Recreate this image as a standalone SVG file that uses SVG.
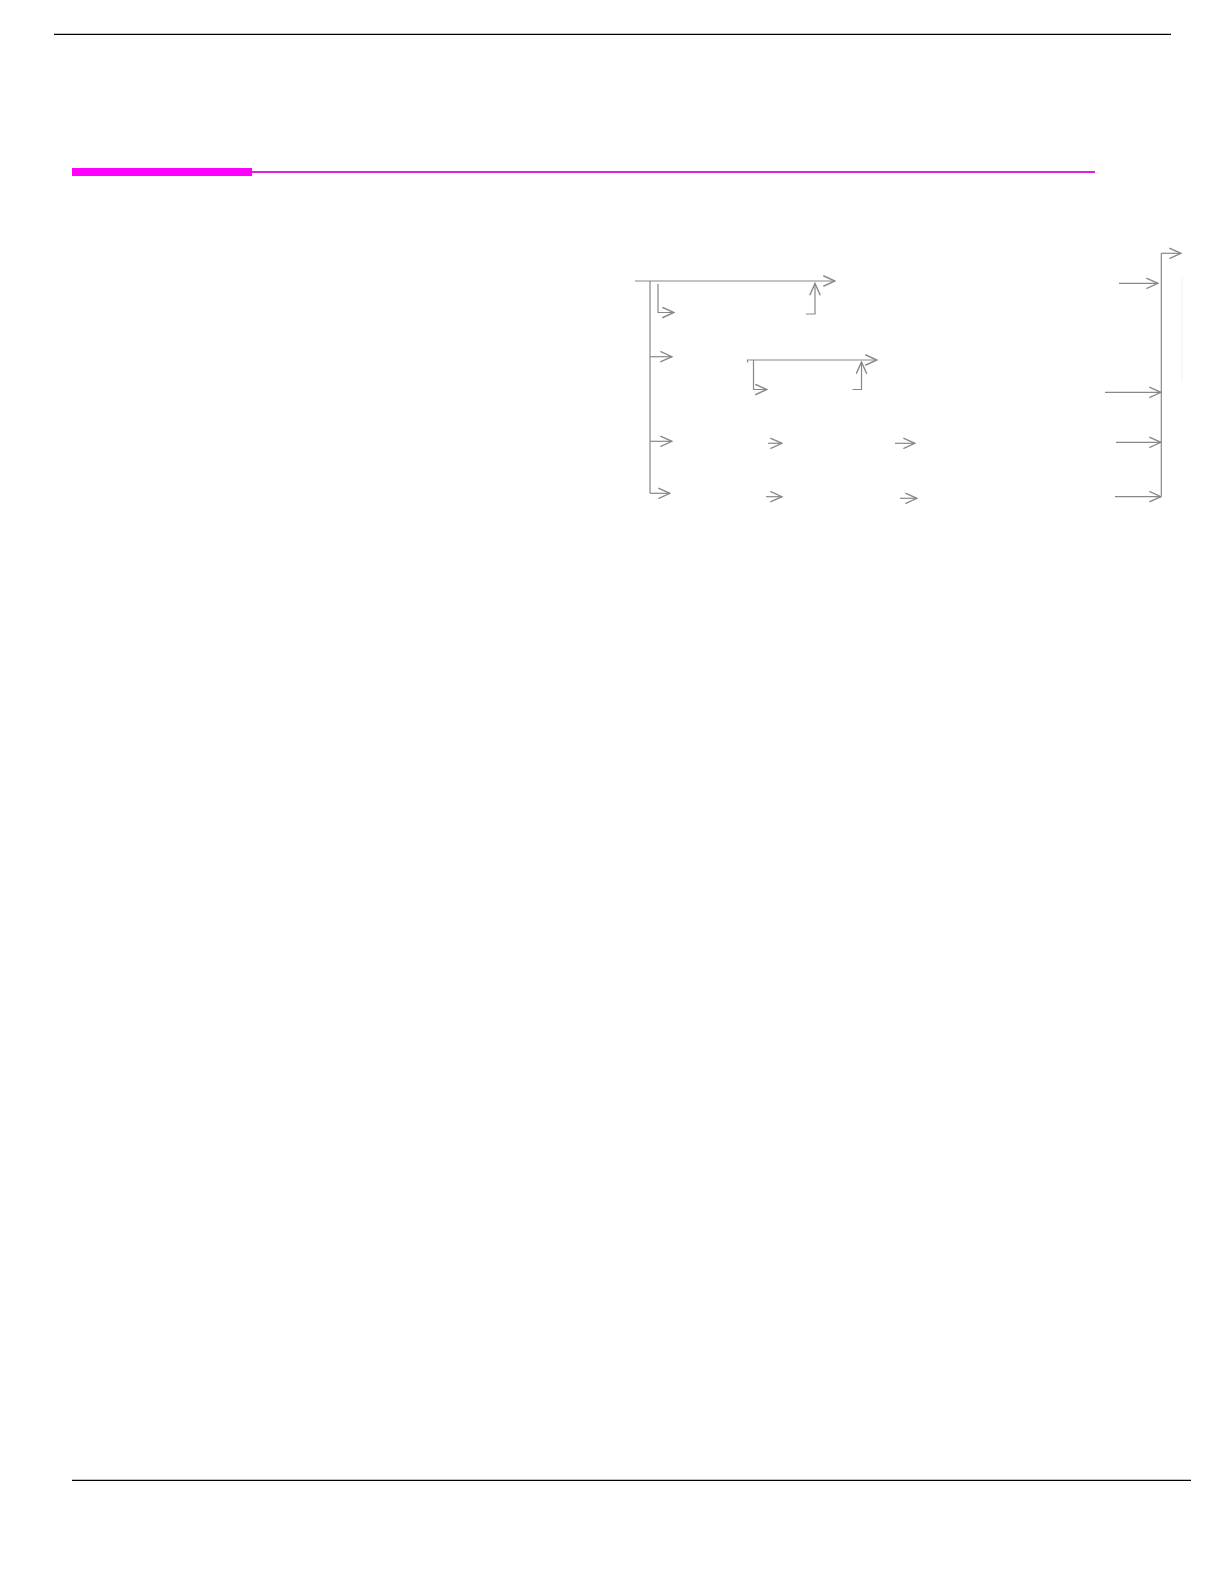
<svg xmlns="http://www.w3.org/2000/svg" width="1224" height="1582" viewBox="0 0 1224 1582">
<style>
.rule{stroke:#000;stroke-width:1.3;fill:none}
.c{stroke:#888;stroke-width:1.2;fill:none}
.a{stroke:#888;stroke-width:1.2;fill:none;marker-end:url(#arr)}
</style>
<defs>
<marker id="arr" markerUnits="userSpaceOnUse" markerWidth="14" markerHeight="12" refX="11" refY="5" orient="auto" viewBox="0 0 12 10">
<path d="M1,0.5 L11,5 L1,9.5" fill="none" stroke="#888" stroke-width="1.2"/>
</marker>
</defs>
<rect width="1224" height="1582" fill="#fff"/>
<g id="page-rules">
<line class="rule" x1="54" y1="34.3" x2="1171" y2="34.3"/>
<line class="rule" x1="72" y1="1480.3" x2="1191" y2="1480.3"/>
<rect x="72" y="168" width="180" height="8" fill="#ff00ff"/>
<line x1="252" y1="172" x2="1095" y2="172" stroke="#dd22dd" stroke-width="2"/>
<line x1="1182" y1="277" x2="1182" y2="382" stroke="#f2f2f2" stroke-width="1"/>
</g>
<g id="connectors">
<path class="a" d="M635,281 H835"/>
<path class="c" d="M650,281 V493"/>
<path class="a" d="M658,284 V312.5 H674"/>
<path class="a" d="M806,314 H815 V283.5"/>
<path class="a" d="M650,356.7 H672"/>
<path class="a" d="M747.5,362.5 V360 H877"/>
<path class="a" d="M753.5,360 V389.5 H767"/>
<path class="a" d="M852.5,389.5 H861.5 V362"/>
<path class="a" d="M650,441.3 H672"/>
<path class="a" d="M650,493.3 H670"/>
<path class="a" d="M768,443.3 H782"/>
<path class="a" d="M766,496.7 H782"/>
<path class="a" d="M895,443.3 H915"/>
<path class="a" d="M900,498.3 H917"/>
<path class="c" d="M1161.3,253.3 V496.7"/>
<path class="a" d="M1161.3,253.3 H1181"/>
<path class="a" d="M1119,283.3 H1158"/>
<path class="a" d="M1105,392.3 H1161"/>
<path class="a" d="M1116,442.3 H1161"/>
<path class="a" d="M1115,496.7 H1161"/>
</g>
</svg>
